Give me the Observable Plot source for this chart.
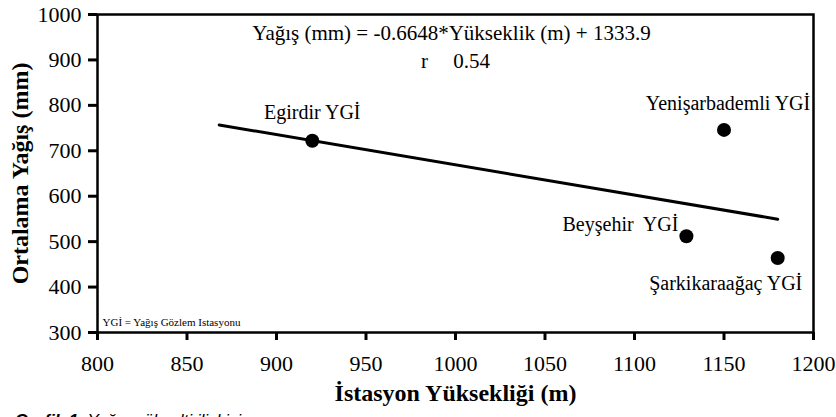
<!DOCTYPE html>
<html>
<head>
<meta charset="utf-8">
<script src="https://cdn.jsdelivr.net/npm/d3@7"></script>
<script src="https://cdn.jsdelivr.net/npm/@observablehq/plot@0.6"></script>
<style>
  html, body { margin: 0; padding: 0; background: #fff; overflow: hidden; }
  #wrap { position: relative; width: 836px; height: 417px; }
  #chart svg text { font-family: "Liberation Serif", "Times New Roman", serif !important; }
  #caption { position: absolute; left: 15px; top: 411px; font-family: "Liberation Sans", Arial, sans-serif; font-size: 17px; font-style: italic; white-space: nowrap; color: #000; }
  #caption b { font-weight: bold; }
</style>
</head>
<body>
<div id="wrap"><div id="chart"></div><div id="caption"><b>Grafik 1.</b> Yağış-yükselti ilişkisi</div></div>
<script>
// Data
const stations = ["Egirdir YGİ", "Yenişarbademli YGİ", "Beyşehir  YGİ", "Şarkikaraağaç YGİ"];
const elevation = [920, 1150, 1129, 1180];
const rainfall = [722, 746, 512, 464];
const slope = -0.6648;
const intercept = 1333.9;
const fitRange = [868, 1180];
const xTicks = [800, 850, 900, 950, 1000, 1050, 1100, 1150, 1200];
const yTicks = [300, 400, 500, 600, 700, 800, 900, 1000];
const equationText = "Yağış (mm) = -0.6648*Yükseklik (m) + 1333.9";
const rLabel = "r";
const rValue = "0.54";
const noteText = "YGİ = Yağış Gözlem Istasyonu";
const xTitle = "İstasyon Yüksekliği (m)";
const yTitle = "Ortalama Yağış (mm)";

const pts = stations.map((s, i) => ({name: s, x: elevation[i], y: rainfall[i]}));
const fit = fitRange.map(x => ({x, y: slope * x + intercept}));
const serif = "Liberation Serif";
const one = [0];

function label(name, opts) {
  return Plot.text(pts.filter(d => d.name === name), {x: "x", y: "y", text: "name", fontSize: 20, fontFamily: serif, ...opts});
}
function note(text, opts) {
  return Plot.text(one, {text: () => text, fontFamily: serif, lineAnchor: "middle", ...opts});
}

const chart = Plot.plot({
  width: 836,
  height: 417,
  marginLeft: 97,
  marginRight: 23,
  marginTop: 14,
  marginBottom: 85,
  style: {fontFamily: serif, background: "#fff", color: "#000"},
  x: {domain: [800, 1200]},
  y: {domain: [300, 1000]},
  marks: [
    Plot.axisX({ticks: xTicks, tickSize: 8, tickPadding: 15, strokeWidth: 3, fontSize: 22, fontFamily: serif, label: null, tickFormat: d => String(d)}),
    Plot.axisY({ticks: yTicks, tickSize: 9, tickPadding: 7, strokeWidth: 3, fontSize: 22, fontFamily: serif, label: null, tickFormat: d => String(d)}),
    Plot.frame({stroke: "#000", strokeWidth: 2.5}),
    Plot.line(fit, {x: "x", y: "y", stroke: "#000", strokeWidth: 3}),
    Plot.dot(pts, {x: "x", y: "y", r: 7, fill: "#000", stroke: "none"}),
    label("Egirdir YGİ", {dy: -28}),
    label("Yenişarbademli YGİ", {dx: 4, dy: -26}),
    label("Beyşehir  YGİ", {dx: -8, dy: -12, textAnchor: "end"}),
    label("Şarkikaraağaç YGİ", {dx: -52, dy: 26}),
    note(equationText, {frameAnchor: "top", dx: -4, dy: 19, fontSize: 21}),
    note(rLabel, {frameAnchor: "top", dx: -31, dy: 47, fontSize: 21}),
    note(rValue, {frameAnchor: "top", dx: 16, dy: 47, fontSize: 21}),
    note(noteText, {frameAnchor: "bottom-left", dx: 5, dy: -10, fontSize: 11, textAnchor: "start"}),
    note(xTitle, {frameAnchor: "bottom", dy: 61, fontSize: 24, fontWeight: "bold", textAnchor: "middle"}),
    note(yTitle, {frameAnchor: "left", dx: -77, rotate: -90, fontSize: 24, fontWeight: "bold", textAnchor: "middle"})
  ]
});
document.getElementById("chart").appendChild(chart);
</script>
</body>
</html>
